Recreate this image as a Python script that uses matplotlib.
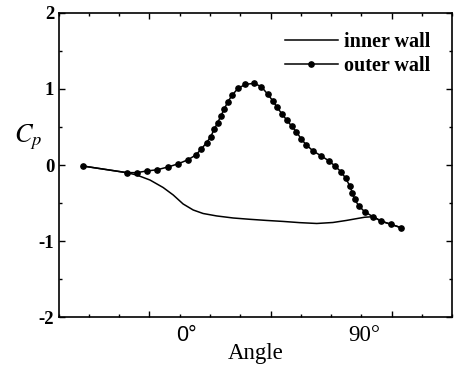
import matplotlib
matplotlib.use("Agg")
import matplotlib.pyplot as plt
from matplotlib.ticker import MultipleLocator, FixedLocator, NullFormatter

plt.rcParams['mathtext.fontset'] = 'stix'

# Outer wall (with markers): angle in degrees, Cp
outer_angle = [-48.0, -26.3, -21.3, -16.4, -11.1, -5.8, -1.0, 3.9, 8.0, 10.7,
               13.3, 15.3, 17.1, 18.8, 20.4, 22.0, 23.7, 26.0, 28.9, 32.6,
               36.9, 40.5, 43.5, 46.1, 48.2, 50.7, 53.0, 55.4, 57.8, 60.3,
               62.8, 66.1, 70.2, 74.0, 76.9, 79.9, 82.2, 84.2, 85.5, 86.7,
               88.7, 91.6, 95.7, 99.9, 104.5, 109.4]
outer_cp = [-0.013, -0.10, -0.10, -0.079, -0.062, -0.026, 0.013, 0.066, 0.131, 0.21,
            0.292, 0.367, 0.468, 0.555, 0.642, 0.730, 0.822, 0.917, 1.005, 1.058,
            1.071, 1.026, 0.931, 0.843, 0.757, 0.669, 0.590, 0.511, 0.436, 0.337,
            0.262, 0.183, 0.118, 0.052, -0.013, -0.088, -0.174, -0.271, -0.363, -0.450,
            -0.537, -0.612, -0.678, -0.737, -0.777, -0.820]

# Inner wall (plain line)
inner_angle = [-48.0, -26.3, -21.3, -14.7, -8.2, -3.2, 1.7, 6.7, 11.6, 18.3,
               26.5, 34.7, 43.0, 51.2, 59.5, 67.9, 75.9, 82.6, 87.5, 91.6,
               95.7, 99.9, 104.5, 109.4]
inner_cp = [-0.013, -0.10, -0.131, -0.197, -0.295, -0.393, -0.511, -0.590, -0.636, -0.668,
            -0.695, -0.712, -0.727, -0.740, -0.756, -0.767, -0.754, -0.727, -0.704, -0.685,
            -0.678, -0.737, -0.777, -0.820]

x_text_labels = ["0°", "90°"]
x_text_pos = [0, 90]

fig = plt.figure(figsize=(4.55, 3.70), dpi=100)
ax = fig.add_axes([0.1286, 0.1419, 0.994 - 0.1286, 0.9662 - 0.1419])

ax.plot(inner_angle, inner_cp, color='black', lw=1.1, label='inner wall')
ax.plot(outer_angle, outer_cp, color='black', lw=1.1, marker='o', markersize=3.8,
        label='outer wall')

ax.set_xlim(-60, 135)
ax.set_ylim(-2, 2)

ax.xaxis.set_major_locator(FixedLocator([-15, 45, 105]))
ax.xaxis.set_minor_locator(MultipleLocator(15))
ax.xaxis.set_major_formatter(NullFormatter())
ax.yaxis.set_major_locator(MultipleLocator(1))
ax.yaxis.set_minor_locator(MultipleLocator(0.5))

ax.tick_params(which='both', direction='in', top=True, right=True, width=1.0)
ax.tick_params(which='major', length=4, pad=3)
ax.tick_params(which='minor', length=2.5)
ax.set_yticks([-2, -1, 0, 1, 2])
ax.set_yticklabels(['-2', '-1', '0', '1', '2'], fontfamily='Liberation Serif',
                   fontweight='bold', fontsize=13.5)

for s in ax.spines.values():
    s.set_linewidth(1.2)

# custom angle labels
ax.text(x_text_pos[0] + 3.3, -2.1, x_text_labels[0], transform=ax.transData,
        ha='center', va='top', fontfamily='Liberation Sans', fontsize=15.5)
ax.text(x_text_pos[1] + 1.5, -2.1, x_text_labels[1], transform=ax.transData,
        ha='center', va='top', fontfamily='Liberation Serif', fontsize=16.5)

ax.set_xlabel('Angle', fontfamily='Liberation Serif', fontsize=16.5, labelpad=15)

fig.text(0.03, 0.63, r'$C_p$', fontsize=19, ha='left', va='center')

leg = ax.legend(loc='upper right', bbox_to_anchor=(0.945, 0.914),
                bbox_transform=fig.transFigure, frameon=False,
                prop={'family': 'Liberation Serif', 'weight': 'bold', 'size': 14.5},
                handlelength=2.6, handletextpad=0.3, labelspacing=0.22,
                borderpad=0, borderaxespad=0)

fig.savefig('out.png', dpi=100)
